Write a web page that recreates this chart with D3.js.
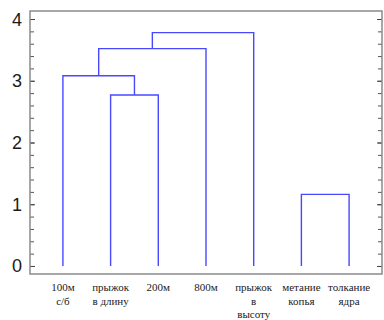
<!DOCTYPE html>
<html>
<head>
<meta charset="utf-8">
<script src="https://cdn.jsdelivr.net/npm/d3@7"></script>
<style>
  body { margin: 0; background: #fff; }
</style>
</head>
<body>
<div id="area"></div>
<script>
// leaves, left to right
var leaves = ["100м|с/б", "прыжок|в длину", "200м", "800м", "прыжок|в|высоту", "метание|копья", "толкание|ядра"];
// merges: [a, b, height]; index >= leaves.length refers to an earlier merge
var merges = [
  [1, 2, 2.77],
  [0, 7, 3.08],
  [3, 8, 3.52],
  [4, 9, 3.78],
  [5, 6, 1.16]
];
var yTicks = [0, 1, 2, 3, 4];

var width = 384, height = 320;
var mLeft = 30, mRight = 382, mTop = 11, mBottom = 274;

var svg = d3.select("#area")
  .append("svg")
  .attr("width", width)
  .attr("height", height);

var x = d3.scalePoint()
  .domain(d3.range(leaves.length))
  .range([mLeft, mRight])
  .padding(0.69);

var y = d3.scaleLinear()
  .domain([-0.13, 4.13])
  .range([mBottom, mTop]);

// node positions
var nodes = leaves.map(function(d, i) { return {x: x(i), h: 0}; });
merges.forEach(function(m) {
  nodes.push({x: (nodes[m[0]].x + nodes[m[1]].x) / 2, h: m[2]});
});

// minor ticks every 0.2
var minor = d3.range(0, 4.01, 0.2);

function ticks(g, axis, size, vals, col) {
  g.call(axis(y).tickValues(vals).tickSize(size).tickFormat(""));
  g.select(".domain").remove();
  g.selectAll("line").attr("stroke", col);
}

svg.append("g").attr("transform", "translate(" + mLeft + ",0)")
  .call(ticks, d3.axisRight, 4, minor, "#555");
svg.append("g").attr("transform", "translate(" + mRight + ",0)")
  .call(ticks, d3.axisLeft, 4, minor, "#555");
svg.append("g").attr("transform", "translate(" + mLeft + ",0)")
  .call(ticks, d3.axisRight, 5, yTicks, "#444");
svg.append("g").attr("transform", "translate(" + mRight + ",0)")
  .call(ticks, d3.axisLeft, 5, yTicks, "#444");

// frame
svg.append("rect")
  .attr("x", mLeft).attr("y", mTop)
  .attr("width", mRight - mLeft).attr("height", mBottom - mTop)
  .attr("fill", "none")
  .attr("stroke", "#8a8a8a")
  .attr("stroke-width", 1.5);

// y labels
svg.selectAll(".ylab")
  .data(yTicks)
  .enter()
  .append("text")
  .attr("x", 22)
  .attr("y", function(d) { return y(d); })
  .attr("dy", "0.36em")
  .attr("text-anchor", "end")
  .style("font-family", "'Liberation Sans', Arial, sans-serif")
  .style("font-size", "18px")
  .style("fill", "#1a1a1a")
  .text(function(d) { return d; });

// dendrogram links
svg.selectAll(".link")
  .data(merges)
  .enter()
  .append("path")
  .attr("d", function(m) {
    var a = nodes[m[0]], b = nodes[m[1]];
    return "M" + a.x + "," + y(a.h) + "V" + y(m[2]) + "H" + b.x + "V" + y(b.h);
  })
  .attr("fill", "none")
  .attr("stroke", "#4848ff")
  .attr("stroke-width", 1.4);

// x labels
var lab = svg.selectAll(".xlab")
  .data(leaves)
  .enter()
  .append("text")
  .attr("x", function(d, i) { return x(i); })
  .attr("y", 291)
  .attr("text-anchor", "middle")
  .style("font-family", "'Liberation Serif', 'Times New Roman', serif")
  .style("font-size", "11px")
  .style("fill", "#222");

lab.selectAll("tspan")
  .data(function(d) { return d.split("|"); })
  .enter()
  .append("tspan")
  .attr("x", function() { return d3.select(this.parentNode).attr("x"); })
  .attr("dy", function(d, i) { return i ? 13.5 : 0; })
  .text(function(d) { return d; });
</script>
</body>
</html>
